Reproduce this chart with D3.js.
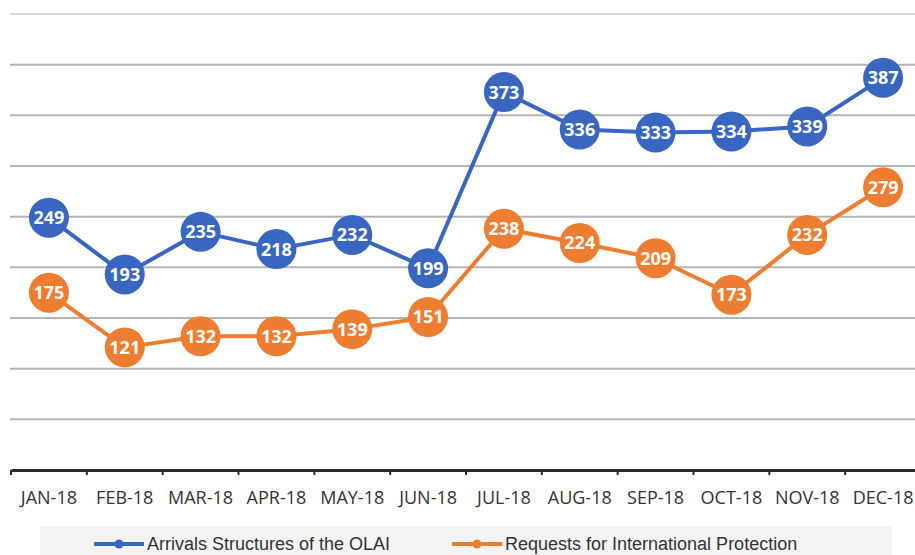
<!DOCTYPE html>
<html>
<head>
<meta charset="utf-8">
<script src="https://cdn.jsdelivr.net/npm/d3@7"></script>
<style>
  body { margin: 0; background: #fff; }
  svg { display: block; }
  .tick-label { font-family: "Open Sans", sans-serif; font-size: 18px; fill: #333; }
  .pt-label { font-family: "Open Sans", sans-serif; font-weight: 700; font-size: 18px; fill: #fff; }
  .legend-text { font-family: "Liberation Sans", Arial, sans-serif; font-size: 18px; fill: #333; }
</style>
</head>
<body>
<script>
// months along the x axis
const MONTHS = ["JAN-18", "FEB-18", "MAR-18", "APR-18", "MAY-18", "JUN-18",
                "JUL-18", "AUG-18", "SEP-18", "OCT-18", "NOV-18", "DEC-18"];
const ARRIVALS = [249, 193, 235, 218, 232, 199, 373, 336, 333, 334, 339, 387];
const REQUESTS = [175, 121, 132, 132, 139, 151, 238, 224, 209, 173, 232, 279];
const SERIES_NAMES = ["Arrivals Structures of the OLAI", "Requests for International Protection"];
const GRID_VALUES = [50, 100, 150, 200, 250, 300, 350, 400, 450];

const W = 915, H = 555;
const BLUE = "#3866c1", ORANGE = "#ed7d31";

const svg = d3.select("body").append("svg").attr("width", W).attr("height", H);

const x = d3.scaleBand().domain(MONTHS).range([11, 921]);
const y = d3.scaleLinear().domain([0, 450]).range([470, 14]);
const cx = (d, i) => x(MONTHS[i]) + x.bandwidth() / 2;

// gridlines
svg.append("g").selectAll("line").data(GRID_VALUES).join("line")
  .attr("x1", 10).attr("x2", W)
  .attr("y1", d => y(d)).attr("y2", d => y(d))
  .attr("stroke", d => d === 450 ? "#d8d8d8" : "#b4b4b4")
  .attr("stroke-width", 2);

// x axis
const xAx = svg.append("g").attr("transform", `translate(0,${y(0)})`)
  .call(d3.axisBottom(x).tickSize(5).tickSizeOuter(0).tickFormat(""));
xAx.select(".domain").attr("stroke", "#2b2b2b").attr("stroke-width", 3);
xAx.selectAll(".tick line").attr("stroke", "#2b2b2b").attr("stroke-width", 2)
  .attr("transform", `translate(${-x.bandwidth() / 2},0)`);

svg.append("g").selectAll("text").data(MONTHS).join("text")
  .attr("class", "tick-label")
  .attr("x", (d, i) => cx(d, i))
  .attr("y", 504)
  .attr("text-anchor", "middle")
  .text(d => d);

// series
function drawSeries(values, color) {
  const line = d3.line().x((d, i) => cx(d, i)).y(d => y(d));
  const g = svg.append("g");
  g.append("path").datum(values)
    .attr("d", line).attr("fill", "none")
    .attr("stroke", color).attr("stroke-width", 4).attr("stroke-linejoin", "round");
  g.selectAll("circle").data(values).join("circle")
    .attr("cx", (d, i) => cx(d, i)).attr("cy", d => y(d))
    .attr("r", 20).attr("fill", color);
  g.selectAll("text").data(values).join("text")
    .attr("class", "pt-label")
    .attr("x", (d, i) => cx(d, i)).attr("y", d => y(d))
    .attr("text-anchor", "middle").attr("dy", "0.36em")
    .text(d => d);
}
drawSeries(ARRIVALS, BLUE);
drawSeries(REQUESTS, ORANGE);

// legend
svg.append("rect").attr("x", 40).attr("y", 526).attr("width", 852).attr("height", 29)
  .attr("fill", "#f4f4f4");
const legendItems = [
  { name: SERIES_NAMES[0], color: BLUE, x0: 94 },
  { name: SERIES_NAMES[1], color: ORANGE, x0: 452 },
];
const lg = svg.append("g").selectAll("g").data(legendItems).join("g");
lg.append("line")
  .attr("x1", d => d.x0).attr("x2", d => d.x0 + 50)
  .attr("y1", 544).attr("y2", 544)
  .attr("stroke", d => d.color).attr("stroke-width", 4);
lg.append("circle")
  .attr("cx", d => d.x0 + 25).attr("cy", 544).attr("r", 4.5)
  .attr("fill", d => d.color);
lg.append("text").attr("class", "legend-text")
  .attr("x", d => d.x0 + 53).attr("y", 550)
  .text(d => d.name);
</script>
</body>
</html>
